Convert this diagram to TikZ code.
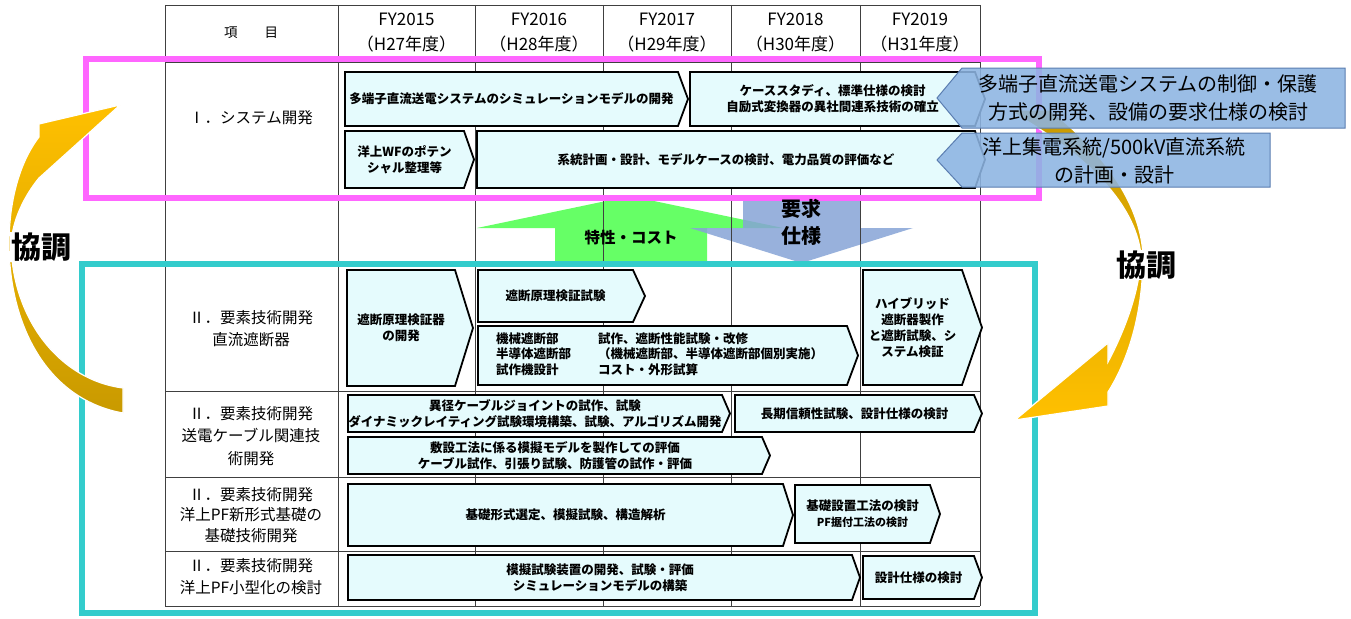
\documentclass[tikz,border=0pt]{standalone}
\usepackage{fontspec}
\setmainfont{Noto Sans CJK JP}
\definecolor{boxfill}{HTML}{E5FBFD}
\definecolor{magentaC}{HTML}{FF66FF}
\definecolor{cyanC}{HTML}{33CCCC}
\definecolor{greenC}{HTML}{66FF66}
\definecolor{blueArr}{HTML}{86A4D6}
\definecolor{callC}{HTML}{8DB4E2}
\definecolor{callD}{HTML}{5A7DB0}
\definecolor{goldL}{HTML}{FFC000}
\definecolor{goldD}{HTML}{C99A00}
\definecolor{gridC}{HTML}{404040}
\newcommand\pent[7]{%
  \draw[pentbox] (#2,#3) -- ({#4-#6},#3) -- (#4,{(#3+#5)/2}) -- ({#4-#6},#5) -- (#2,#5) -- cycle;
  \node[boxtxt] (#1) at ({(#2+#4-#6)/2},{(#3+#5)/2}) {#7};
}
\begin{document}
\begin{tikzpicture}[x=1pt,y=-1pt,
  pentbox/.style={draw=black, line width=1.8pt, fill=boxfill, line join=miter},
  boxtxt/.style={font=\fontsize{12.5}{16}\selectfont\bfseries, align=center, inner sep=0pt},
  lbl/.style={font=\fontsize{15.5}{22}\selectfont, align=center, inner sep=0pt},
  hdr/.style={font=\fontsize{17}{25}\selectfont, align=center, inner sep=0pt},
  gridln/.style={draw=gridC, line width=0.8pt},
  frameM/.style={draw=magentaC, line width=6pt},
  frameC/.style={draw=cyanC, line width=6pt},
  goldarrow/.style={draw=white, line width=1.2pt},
  callout/.style={fill=callC, draw=callD, line width=1pt, fill opacity=0.88},
  calltxt/.style={font=\fontsize{20}{28}\selectfont, align=center, inner sep=0pt},
  kyo/.style={font=\fontsize{30}{30}\selectfont\bfseries, fill=white, inner sep=1pt},
  arrtxt/.style={font=\bfseries, align=center, inner sep=0pt}]
\useasboundingbox (0,0) rectangle (1351,618);
\fill[white] (0,0) rectangle (1351,618);

% big arrows between the blocks
\fill[greenC] (555,262) -- (555,228) -- (477,228) -- (630,196) -- (783,228) -- (707,228) -- (707,262) -- cycle;
\fill[blueArr, fill opacity=0.85] (743,197) -- (860,197) -- (860,228) -- (913,228) -- (801.5,263) -- (690,228) -- (743,228) -- cycle;

% table grid
\foreach \gx in {165,338,475,603,731,860,980} \draw[gridln] (\gx,5) -- (\gx,606);
\foreach \gy in {5,62,197,264,391,477,551,606} \draw[gridln] (165,\gy) -- (980,\gy);

% header
\node[font=\fontsize{13.5}{16}\selectfont, inner sep=0pt] (h0) at (251,33) {項\hspace{27pt}目};
\node[hdr] (h1) at (406.5,33) {FY2015\\（H27年度）};
\node[hdr] (h2) at (539,33) {FY2016\\（H28年度）};
\node[hdr] (h3) at (667,33) {FY2017\\（H29年度）};
\node[hdr] (h4) at (795.5,33) {FY2018\\（H30年度）};
\node[hdr] (h5) at (920,33) {FY2019\\（H31年度）};

% row labels
\node[lbl] (r1) at (251,118) {Ⅰ．システム開発};
\node[lbl] (r2) at (251,329) {Ⅱ．要素技術開発\\直流遮断器};
\node[lbl, font=\fontsize{15.5}{22.5}\selectfont] (r3) at (251,436) {Ⅱ．要素技術開発\\送電ケーブル関連技\\術開発};
\node[lbl, font=\fontsize{15.5}{20.5}\selectfont] (r4) at (251,515) {Ⅱ．要素技術開発\\洋上PF新形式基礎の\\基礎技術開発};
\node[lbl] (r5) at (251,577) {Ⅱ．要素技術開発\\洋上PF小型化の検討};

% row I boxes
\pent{a1}{345}{72}{688}{126}{10}{多端子直流送電システムのシミュレーションモデルの開発}
\pent{a2}{690}{72}{985}{126}{10}{ケーススタディ、標準仕様の検討\\自励式変換器の異社間連系技術の確立}
\pent{a3}{345}{131}{474}{188}{10}{洋上WFのポテン\\シャル整理等}
\pent{a4}{477}{131}{985}{188}{10}{系統計画・設計、モデルケースの検討、電力品質の評価など}

% row II DC breaker
\pent{b1}{347}{270}{473}{386}{18}{遮断原理検証器\\の開発}
\pent{b2}{478}{270}{645}{322}{12}{遮断原理検証試験}
\pent{b3}{478}{326}{858}{385}{11}{}
\node[boxtxt, align=left, anchor=west, font=\fontsize{12.5}{15.5}\selectfont\bfseries] (b3l) at (496,354) {機械遮断部\\半導体遮断部\\試作機設計};
\node[boxtxt, align=left, anchor=west, font=\fontsize{12.5}{15.5}\selectfont\bfseries] (b3r) at (598,354) {試作、遮断性能試験・改修\\（機械遮断部、半導体遮断部個別実施）\\コスト・外形試算};
\pent{b4}{863}{270}{982}{385}{20}{ハイブリッド\\遮断器製作\\と遮断試験、シ\\ステム検証}

% row cable
\pent{c1}{348}{395}{730}{432}{8}{異径ケーブルジョイントの試作、試験\\ダイナミックレイティング試験環境構築、試験、アルゴリズム開発}
\pent{c2}{735}{395}{982}{432}{8}{長期信頼性試験、設計仕様の検討}
\pent{c3}{348}{437}{770}{474}{8}{敷設工法に係る模擬モデルを製作しての評価\\ケーブル試作、引張り試験、防護管の試作・評価}

% row foundation
\pent{d1}{348}{484}{793}{546}{10}{基礎形式選定、模擬試験、構造解析}
\pent{d2}{795}{485}{940}{543}{10}{基礎設置工法の検討\\{\fontsize{11}{16}\selectfont PF据付工法の検討}}

% row miniaturisation
\pent{e1}{348}{555}{860}{600}{8}{模擬試験装置の開発、試験・評価\\シミュレーションモデルの構築}
\pent{e2}{863}{556}{982}{599}{8}{設計仕様の検討}

% coloured frames
\draw[frameM] (86,59) rectangle (1039,198);
\draw[frameC] (82,264) rectangle (1035,613);

% curved gold arrows
\path[goldarrow, top color=goldL, bottom color=goldD]
  (123,413) .. controls (50,400) and (10,330) .. (9,245)
  .. controls (9,190) and (25,155) .. (39,137)
  -- (39,124) -- (120,105) -- (39,178)
  .. controls (25,195) and (12,220) .. (11,245)
  .. controls (13,320) and (60,380) .. (123,388) -- cycle;
\path[goldarrow, top color=goldD, bottom color=goldL]
  (1050,110) .. controls (1100,150) and (1140,200) .. (1143,255)
  .. controls (1143,320) and (1125,365) .. (1108,392)
  -- (1108,406) -- (1015,420) -- (1108,343) -- (1108,362)
  .. controls (1125,330) and (1140,290) .. (1141,255)
  .. controls (1135,200) and (1080,150) .. (1008,110) -- cycle;
\node[kyo] (k1) at (41,247) {協調};
\node[kyo] (k2) at (1146,265) {協調};

% callouts
\path[callout] (1345,68) -- (962,68) -- (937,98) -- (962,128) -- (1345,128) -- cycle;
\node[calltxt] (co1) at (1148,98) {多端子直流送電システムの制御・保護\\方式の開発、設備の要求仕様の検討};
\path[callout] (1270,133) -- (962,133) -- (937,160) -- (962,187) -- (1270,187) -- cycle;
\node[calltxt] (co2) at (1114,161) {洋上集電系統/500kV直流系統\\の計画・設計};

% arrow labels
\node[arrtxt, font=\fontsize{15.5}{20}\selectfont\bfseries] (gl) at (631,238) {特性・コスト};
\node[arrtxt, font=\fontsize{20}{27}\selectfont\bfseries] (bl) at (801,222) {要求\\仕様};
\end{tikzpicture}
\end{document}
